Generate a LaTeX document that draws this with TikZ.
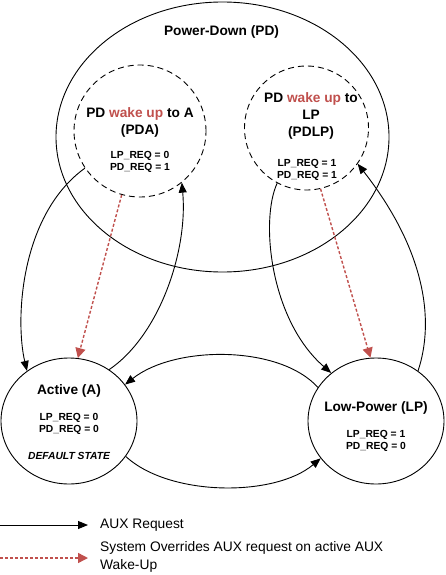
\documentclass[tikz,border=0pt]{standalone}
\usepackage{fontspec}
\setmainfont{Liberation Sans}
\usepackage{tikz}
\usetikzlibrary{arrows.meta,shapes.geometric}
\definecolor{wakered}{RGB}{192,80,77}

\tikzset{
  state/.style={draw,ellipse,inner sep=0pt,line width=0.9pt},
  wakestate/.style={draw,circle,inner sep=0pt,line width=0.9pt,dash pattern={on 6pt off 4pt}},
  bigtxt/.style={font=\fontsize{13.7}{17}\selectfont\bfseries,align=center,inner sep=0.75pt},
  smalltxt/.style={font=\fontsize{10.3}{12.5}\selectfont\bfseries,align=center,inner sep=0.75pt},
  auxreq/.style={line width=0.9pt,-{Triangle[length=10pt,width=8pt]}},
  override/.style={wakered,line width=1.4pt,dash pattern={on 3pt off 2pt},-{Triangle[length=10pt,width=10pt]}},
}

\begin{document}
\begin{tikzpicture}[x=1pt,y=1pt,yscale=-1]
\useasboundingbox (0,0) rectangle (445,575);

%Shape: Ellipse [Power-Down]
\node [state,minimum width=333,minimum height=270] (PD) at (222.5,137) {};
%Shape: Circle [PD wake up to A]
\node [wakestate,minimum size=132] (PDA) at (140,131) {};
%Shape: Circle [PD wake up to LP]
\node [wakestate,minimum size=124] (PDLP) at (306.5,128) {};
%Shape: Ellipse [Active]
\node [state,minimum width=136,minimum height=126] (A) at (69,421) {};
%Shape: Ellipse [Low-Power]
\node [state,minimum width=136,minimum height=126] (LP) at (376,421) {};

% Text Node
\node [bigtxt] (PDtitle) at (221.5,32) {Power-Down (PD)};
% Text Node
\node [bigtxt] (PDAtitle) at (140,122) {PD \textcolor{wakered}{wake up} to A\\(PDA)};
\node [smalltxt] (PDAreq) at (140,162) {LP\_REQ = 0\\PD\_REQ = 1};
% Text Node
\node [bigtxt] (PDLPtitle) at (311,116) {PD \textcolor{wakered}{wake up} to\\LP\\(PDLP)};
\node [smalltxt] (PDLPreq) at (307,170) {LP\_REQ = 1\\PD\_REQ = 1};
% Text Node
\node [bigtxt] (Atitle) at (69,391) {Active (A)};
\node [smalltxt] (Areq) at (69,424) {LP\_REQ = 0\\PD\_REQ = 0};
\node [smalltxt,font=\fontsize{10.3}{12.5}\selectfont\bfseries\itshape] (Adefault) at (69,456) {DEFAULT STATE};
% Text Node
\node [bigtxt] (LPtitle) at (376,408) {Low-Power (LP)};
\node [smalltxt] (LPreq) at (376,441) {LP\_REQ = 1\\PD\_REQ = 0};

%Curves: AUX requests
\draw [auxreq] (PDA.214) .. controls (20,215) and (15,320) .. (A.130);
\draw [auxreq] (A.52) .. controls (160,335) and (188,250) .. (PDA.309);
\draw [auxreq] (PDLP.242) .. controls (260,220) and (270,320) .. (LP.133);
\draw [auxreq] (LP.50) .. controls (435,320) and (425,250) .. (PDLP.325);
\draw [auxreq] (LP.150) .. controls (280,345) and (175,345) .. (A.33);
\draw [auxreq] (A.328) .. controls (170,497) and (275,497) .. (LP.214);

%Straight Lines: system overrides
\draw [override] (PDA.254) -- (A.82);
\draw [override] (PDLP.283) -- (LP.95);

%Legend
\coordinate (auxstart) at (0,525);
\coordinate (auxend) at (88,525);
\coordinate (ovrstart) at (0,558);
\coordinate (ovrend) at (88,558);
\draw [auxreq] (auxstart) -- (auxend);
\draw [override] (ovrstart) -- (ovrend);
% Text Node
\node [anchor=west,inner sep=0pt,font=\fontsize{13.8}{18}\selectfont] (auxtxt) at (100,525) {AUX Request};
\node [anchor=west,inner sep=0pt,align=left,font=\fontsize{13.8}{18}\selectfont] (ovrtxt) at (100,557) {System Overrides AUX request on active AUX\\Wake-Up};

\end{tikzpicture}
\end{document}
